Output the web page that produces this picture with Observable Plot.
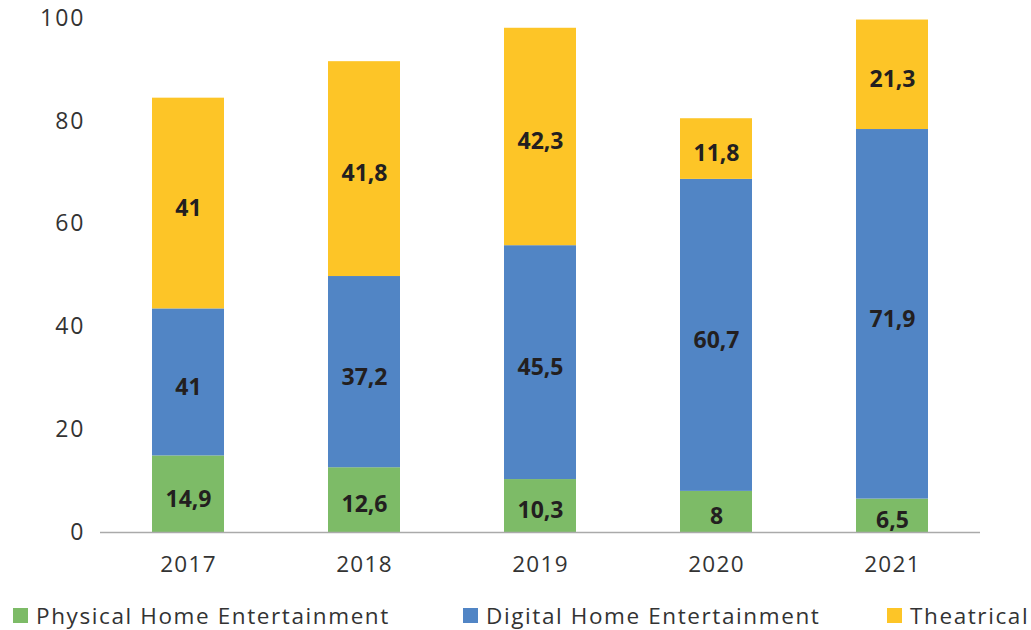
<!DOCTYPE html>
<html>
<head>
<meta charset="utf-8">
<script src="https://cdn.jsdelivr.net/npm/d3@7"></script>
<script src="https://cdn.jsdelivr.net/npm/@observablehq/plot@0.6"></script>
<style>
  html, body { margin: 0; padding: 0; background: #fff; }
  body { width: 1031px; height: 630px; overflow: hidden; font-family: "Open Sans", sans-serif; }
  #legend { position: relative; width: 1031px; height: 50px; color: #333; font-size: 22.5px; letter-spacing: 1.6px; }
  .item { position: absolute; top: 20px; display: flex; align-items: center; white-space: nowrap; }
  .sw { width: 15px; height: 15px; margin-right: 8px; }
  g[aria-label="y-axis tick label"] { letter-spacing: 2px; }
  g[aria-label="x-axis tick label"] { letter-spacing: 1.3px; }
</style>
</head>
<body>
<div id="chart"></div>
<div id="legend"></div>
<script>
const years = ["2017", "2018", "2019", "2020", "2021"];
const seriesNames = ["Physical Home Entertainment", "Digital Home Entertainment", "Theatrical"];
const seriesColors = ["#7dbb67", "#5185c5", "#fdc527"];
// drawn heights
const physical = [14.9, 12.6, 10.3, 8, 6.5];
const digital = [28.6, 37.2, 45.5, 60.7, 71.9];
const theatrical = [41, 41.8, 42.3, 11.8, 21.3];
// printed labels
const physicalLabels = ["14,9", "12,6", "10,3", "8", "6,5"];
const digitalLabels = ["41", "37,2", "45,5", "60,7", "71,9"];
const theatricalLabels = ["41", "41,8", "42,3", "11,8", "21,3"];
const yTicks = [0, 20, 40, 60, 80, 100];

const seriesValues = [physical, digital, theatrical];
const seriesLabels = [physicalLabels, digitalLabels, theatricalLabels];
const data = [];
seriesNames.forEach((s, si) => {
  years.forEach((y, yi) => {
    data.push({year: y, series: s, value: seriesValues[si][yi], label: seriesLabels[si][yi]});
  });
});

const stackOpts = {x: "year", y: "value", z: "series", order: seriesNames};

const chart = Plot.plot({
  width: 1031,
  height: 580,
  marginLeft: 100,
  marginRight: 51,
  marginTop: 18,
  marginBottom: 48,
  style: {fontFamily: "'Open Sans', sans-serif", fontSize: "22px", color: "#333", background: "#fff"},
  x: {domain: years, paddingInner: 0.59, paddingOuter: 0.295, label: null},
  y: {domain: [0, 100], label: null},
  color: {domain: seriesNames, range: seriesColors},
  marks: [
    Plot.barY(data, Plot.stackY({...stackOpts, fill: "series"})),
    Plot.ruleY([0], {stroke: "#aaa", strokeWidth: 1.5}),
    Plot.text(data, Plot.stackY({...stackOpts, y: "value", text: "label", fill: "#231f20", fontWeight: "bold", fontSize: 23, dy: 5})),
    Plot.axisX({tickSize: 0, tickPadding: 24, fontSize: 22.5}),
    Plot.axisY({ticks: yTicks, tickSize: 0, tickPadding: 15, fontSize: 23})
  ]
});
document.getElementById("chart").appendChild(chart);

const legendLefts = [13, 463, 887];
const legend = document.getElementById("legend");
seriesNames.forEach((s, i) => {
  const item = document.createElement("div");
  item.className = "item";
  item.style.left = legendLefts[i] + "px";
  const sw = document.createElement("div");
  sw.className = "sw";
  sw.style.background = seriesColors[i];
  const t = document.createElement("span");
  t.textContent = s;
  item.appendChild(sw);
  item.appendChild(t);
  legend.appendChild(item);
});
</script>
</body>
</html>
